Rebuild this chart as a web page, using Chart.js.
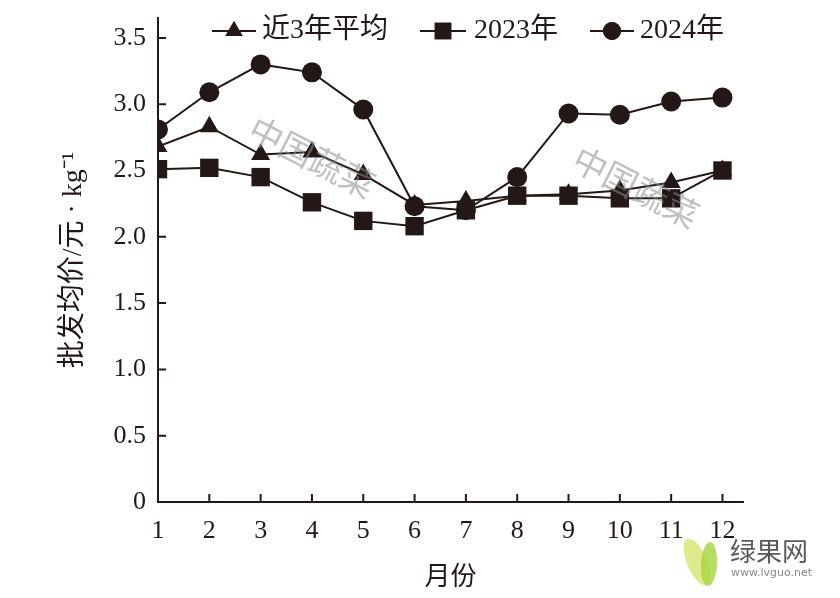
<!DOCTYPE html>
<html><head><meta charset="utf-8">
<script src="https://cdn.jsdelivr.net/npm/chart.js@4/dist/chart.umd.min.js"></script>
<style>html,body{margin:0;padding:0;background:#fff}#wrap{width:840px;height:598px}</style>
</head><body><div id="wrap"><canvas id="c" width="840" height="598"></canvas></div>
<script>
const months = [1,2,3,4,5,6,7,8,9,10,11,12];
const avg3 = [2.68,2.83,2.62,2.64,2.47,2.24,2.27,2.31,2.32,2.35,2.41,2.50];
const y2023 = [2.51,2.52,2.45,2.26,2.12,2.08,2.20,2.31,2.31,2.29,2.29,2.50];
const y2024 = [2.81,3.09,3.30,3.24,2.96,2.23,2.20,2.45,2.93,2.92,3.02,3.05];
const yTickValues = [0,0.5,1.0,1.5,2.0,2.5,3.0,3.5];
const seriesNames = ['近3年平均','2023年','2024年'];
const xTitle = '月份';
const yTitle = '批发均价/元 · kg⁻¹';

const INK = '#231815';
const SERIF = "'Liberation Serif','Noto Sans CJK SC'";
const pts = arr => months.map((m,i)=>({x:m,y:arr[i]}));

const styles = [
  {pointStyle:'triangle', radius:11},
  {pointStyle:'rect', radius:13},
  {pointStyle:'circle', radius:10}
];

function ds(label, data, st, order){
  return {label, data: pts(data), borderColor: INK, backgroundColor: INK,
    borderWidth: 2, pointStyle: st.pointStyle, pointRadius: st.radius,
    pointHoverRadius: st.radius, pointBorderWidth: 0, tension: 0, order};
}

const customLegend = {
  id:'customLegend',
  afterDraw(chart){
    const ctx = chart.ctx;
    const items = [
      {lx:212, len:44, tx:262},
      {lx:420, len:46, tx:474},
      {lx:590, len:44, tx:640}
    ];
    const cy = 31;
    ctx.save();
    items.forEach((it,i)=>{
      ctx.strokeStyle = INK; ctx.lineWidth = 2;
      ctx.beginPath(); ctx.moveTo(it.lx, cy); ctx.lineTo(it.lx+it.len, cy); ctx.stroke();
      ctx.fillStyle = INK;
      const st = styles[i];
      Chart.helpers.drawPoint(ctx, {pointStyle: st.pointStyle, radius: st.radius*0.9, rotation:0, borderWidth:0}, it.lx+it.len/2, cy);
      ctx.fill();
      ctx.font = "28px " + SERIF;
      ctx.textBaseline = 'middle';
      ctx.textAlign = 'left';
      ctx.fillStyle = INK;
      ctx.fillText(seriesNames[i], it.tx, cy);
    });
    ctx.restore();
  }
};

const inwardTicks = {
  id:'inwardTicks',
  afterDraw(chart){
    const ctx = chart.ctx, xs = chart.scales.x, ys = chart.scales.y, a = chart.chartArea;
    ctx.save();
    ctx.strokeStyle = INK; ctx.lineWidth = 2;
    ctx.beginPath();
    yTickValues.forEach(v=>{ if(v===0) return; const p = ys.getPixelForValue(v); ctx.moveTo(a.left, p); ctx.lineTo(a.left+8, p); });
    months.forEach(v=>{ if(v===1) return; const p = xs.getPixelForValue(v); ctx.moveTo(p, a.bottom); ctx.lineTo(p, a.bottom-8); });
    ctx.stroke();
    ctx.restore();
  }
};

const watermarks = {
  id:'watermarks',
  afterDraw(chart){
    const ctx = chart.ctx;
    ctx.save();
    ctx.font = "34px 'Noto Sans CJK SC'";
    ctx.fillStyle = 'rgba(140,140,140,0.55)';
    ctx.textAlign = 'center'; ctx.textBaseline = 'middle';
    [[312,157],[636,187]].forEach(([x,y])=>{
      ctx.save(); ctx.translate(x,y); ctx.rotate(27*Math.PI/180); ctx.fillText('中国蔬菜',0,0); ctx.restore();
    });
    // logo
    ctx.fillStyle = 'rgba(215,232,120,0.85)';
    ctx.beginPath(); ctx.ellipse(697,562,10,25,-0.4,0,Math.PI*2); ctx.fill();
    ctx.fillStyle = 'rgba(170,215,70,0.85)';
    ctx.beginPath(); ctx.ellipse(709,564,8,22,0.05,0,Math.PI*2); ctx.fill();
    ctx.fillStyle = '#5a5a5a';
    ctx.textAlign = 'left';
    ctx.font = "26px 'Noto Sans CJK SC'";
    ctx.fillText('绿果网', 730, 551);
    ctx.font = "11px 'DejaVu Sans'";
    ctx.fillStyle = '#8a8a8a';
    ctx.fillText('www.lvguo.net', 731, 573);
    ctx.restore();
  }
};

new Chart(document.getElementById('c'), {
  type:'line',
  data:{ datasets:[
    ds(seriesNames[1], y2023, styles[1], 0),
    ds(seriesNames[0], avg3, styles[0], 1),
    ds(seriesNames[2], y2024, styles[2], 2)
  ]},
  options:{
    responsive:false, animation:false, devicePixelRatio:1,
    layout:{padding:{top:18, right:97, left:0, bottom:0}},
    plugins:{legend:{display:false}, tooltip:{enabled:false}},
    scales:{
      x:{type:'linear', min:1, max:12.4,
        afterFit(s){ s.height = 96; s.paddingLeft = 0; s.paddingRight = 0; },
        afterBuildTicks(s){ s.ticks = months.map(v=>({value:v})); },
        grid:{display:false, drawTicks:false},
        border:{display:true, color:INK, width:2},
        ticks:{color:INK, font:{family:SERIF, size:26}, padding:14, maxRotation:0, autoSkip:false},
        title:{display:true, text:xTitle, color:INK, font:{family:"'Noto Sans CJK SC'", size:26}, padding:{bottom:7, top:0}}
      },
      y:{type:'linear', min:0, max:3.65,
        afterFit(s){ s.width = 158; s.paddingTop = 0; s.paddingBottom = 0; },
        afterBuildTicks(s){ s.ticks = yTickValues.map(v=>({value:v})); },
        grid:{display:false, drawTicks:false},
        border:{display:true, color:INK, width:2},
        ticks:{color:INK, font:{family:SERIF, size:26}, padding:12,
          callback:v=> v===0 ? '0' : v.toFixed(1)},
        title:{display:true, text:yTitle, color:INK, font:{family:SERIF, size:28}, padding:{top:57, bottom:0}}
      }
    }
  },
  plugins:[inwardTicks, customLegend, watermarks]
});
</script></body></html>
